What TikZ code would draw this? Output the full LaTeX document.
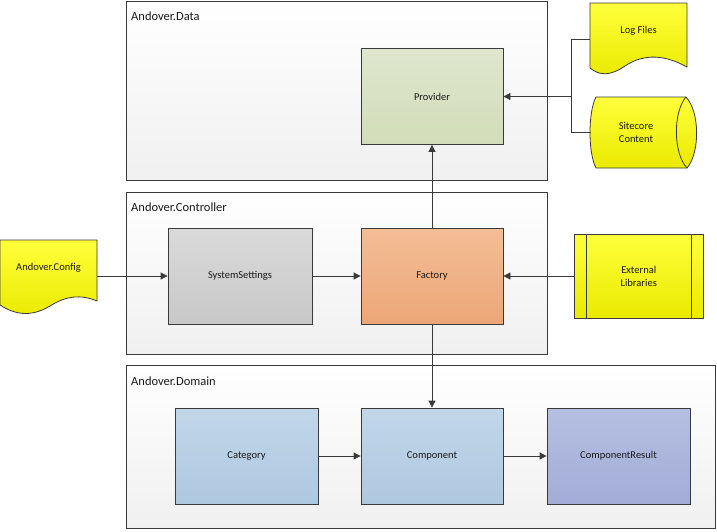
\documentclass[tikz,border=0pt]{standalone}
\usepackage{fontspec}
\setmainfont{Carlito}
\usetikzlibrary{arrows.meta}
\definecolor{edge}{HTML}{3A3A3A}
\definecolor{txt}{HTML}{1A1A1A}
\tikzset{
  container/.style={draw=edge, line width=0.8pt, top color=white, bottom color={rgb,255:red,240;green,240;blue,240}},
  ctitle/.style={anchor=west, font=\fontsize{12.5}{14}\selectfont, text=txt, inner sep=0pt},
  box/.style={draw=edge, line width=0.8pt, minimum width=142pt, minimum height=96pt, inner sep=0pt, font=\fontsize{10.5}{12}\selectfont, text=txt},
  yel/.style={draw=edge, line width=0.8pt, top color={rgb,255:red,255;green,255;blue,60}, bottom color={rgb,255:red,234;green,234;blue,0}},
  ylabel/.style={font=\fontsize{10.5}{12}\selectfont, text=txt, align=center, inner sep=0pt},
  anch/.style={inner sep=0pt, outer sep=0pt},
  arr/.style={draw=edge, line width=0.8pt, -{Triangle[length=7pt,width=7pt]}},
  conn/.style={draw=edge, line width=0.8pt},
}
\begin{document}
\begin{tikzpicture}[x=1pt,y=-1pt]
\useasboundingbox (0,0) rectangle (717,531);
% containers
\path[container] (126.5,1.5) rectangle (547,180);
\node[ctitle] (tdata) at (131,16) {Andover.Data};
\path[container] (126.5,192) rectangle (547,354);
\node[ctitle] (tctrl) at (131,207) {Andover.Controller};
\path[container] (126.5,365) rectangle (715,528);
\node[ctitle] (tdom) at (131,381) {Andover.Domain};

% boxes
\node[box, top color={rgb,255:red,222;green,230;blue,206}, bottom color={rgb,255:red,210;green,221;blue,184}] (provider) at (432,96.5) {Provider};
\node[box, top color={rgb,255:red,218;green,218;blue,218}, bottom color={rgb,255:red,200;green,200;blue,200}, minimum width=144pt] (sys) at (240,276) {SystemSettings};
\node[box, top color={rgb,255:red,243;green,190;blue,150}, bottom color={rgb,255:red,237;green,166;blue,118}] (factory) at (432,276) {Factory};
\node[box, top color={rgb,255:red,194;green,214;blue,233}, bottom color={rgb,255:red,174;green,200;blue,224}, minimum width=143pt] (category) at (246.5,456) {Category};
\node[box, top color={rgb,255:red,194;green,214;blue,233}, bottom color={rgb,255:red,174;green,200;blue,224}] (component) at (432,456) {Component};
\node[box, top color={rgb,255:red,182;green,192;blue,226}, bottom color={rgb,255:red,162;green,172;blue,214}, minimum width=143pt] (result) at (618.5,456) {ComponentResult};

% Log Files (document shape)
\path[yel] (590,3) -- (687,3) -- (687,67) .. controls (660,52) and (640,56) .. (625,66) .. controls (610,76) and (600,76) .. (590,68) -- cycle;
\node[anch, minimum width=97pt, minimum height=72pt] (logfiles) at (638.5,39) {};
\node[ylabel] (logtxt) at (638.5,31) {Log Files};

% Sitecore Content (direct data shape)
\path[yel] (596,97) -- (686,97) .. controls (700,112) and (700,153) .. (687,168) -- (596,168) .. controls (588,153) and (588,112) .. (596,97) -- cycle;
\draw[draw=edge, line width=0.8pt] (686,97) .. controls (673,112) and (673,153) .. (687,168);
\node[anch, minimum width=1pt, minimum height=71pt] (sitecore) at (591,132) {};
\node[ylabel] (sctxt) at (636,132) {Sitecore\\[1pt]Content};

% Andover.Config (document shape)
\path[yel] (0,240) -- (97,240) -- (97,301) .. controls (80,294) and (66,296) .. (50,306) .. controls (30,318) and (14,314) .. (0,305) -- cycle;
\node[anch, minimum width=1pt, minimum height=1pt] (config) at (97,276) {};
\node[ylabel] (cfgtxt) at (48.5,268) {Andover.Config};

% External Libraries (predefined process)
\path[yel] (574.5,234) rectangle (703,318);
\draw[draw=edge, line width=0.8pt] (586,234) -- (586,318) (691,234) -- (691,318);
\node[anch, minimum width=128pt, minimum height=84pt] (extlib) at (638.75,276) {};
\node[ylabel] (exttxt) at (638.75,276) {External\\[1pt]Libraries};

% connectors
\coordinate (jn) at (571.5,96.5);
\draw[conn] (logfiles.west) -| (jn) |- (sitecore.center);
\draw[arr] (jn) -- (provider.east);
\draw[arr] (factory.north) -- (provider.south);
\draw[arr] (config.center) -- (sys.west);
\draw[arr] (sys.east) -- (factory.west);
\draw[arr] (extlib.west) -- (factory.east);
\draw[arr] (factory.south) -- (component.north);
\draw[arr] (category.east) -- (component.west);
\draw[arr] (component.east) -- (result.west);
\end{tikzpicture}
\end{document}
